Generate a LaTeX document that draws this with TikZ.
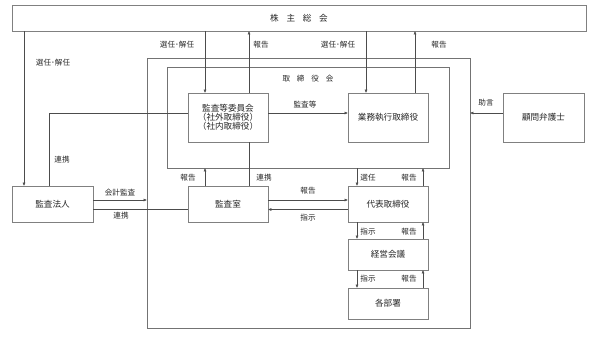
\documentclass[tikz,border=0pt]{standalone}
\usepackage{fontspec}
\setmainfont{Noto Sans CJK JP}
\usetikzlibrary{arrows.meta}
\tikzset{
  box/.style={draw=black!50, line width=0.6pt, inner sep=0pt, align=center,
    text=black!85, font=\fontsize{8.6}{9}\selectfont},
  frame/.style={draw=black!55, line width=0.6pt, inner sep=0pt},
  lbl/.style={inner sep=1pt, text=black!85, font=\fontsize{7.6}{8}\selectfont},
  link/.style={draw=black!70, line width=0.5pt},
  arr/.style={link, -{Triangle[length=3pt,width=2.6pt]}},
}
\begin{document}
\begin{tikzpicture}[x=1pt,y=-1pt]
  \useasboundingbox (0,0) rectangle (596,341);
  \coordinate (xa) at (24,0);
  \coordinate (xb) at (49,0);
  \coordinate (xc) at (205,0);
  \coordinate (xd) at (249,0);
  \coordinate (xe) at (357,0);
  \coordinate (xf) at (366,0);
  \coordinate (xg) at (415,0);
  \coordinate (xh) at (423,0);
  \coordinate (ya) at (0,113);
  \coordinate (yb) at (0,200);
  \coordinate (yc) at (0,209.5);
  \node[frame, minimum width=323, minimum height=270] (group) at (308.5,193) {};
  \node[frame, minimum width=282, minimum height=101] (board) at (308,117.5) {};
  \node[lbl] (boardname) at (308,79) {取\hspace{0.9em}締\hspace{0.9em}役\hspace{0.9em}会};
  \node[box, minimum width=574, minimum height=26] (soukai) at (299,18) {株\hspace{0.9em}主\hspace{0.9em}総\hspace{0.9em}会};
  \node[box, minimum width=80, minimum height=49] (iinkai) at (228,117.5) {監査等委員会\\（社外取締役）\\（社内取締役）};
  \node[box, minimum width=80, minimum height=49] (gyomu) at (388,117.5) {業務執行取締役};
  \node[box, minimum width=81, minimum height=49] (komon) at (543.5,117.5) {顧問弁護士};
  \node[box, minimum width=81, minimum height=36] (houjin) at (52.5,204) {監査法人};
  \node[box, minimum width=80, minimum height=36] (shitsu) at (228,204) {監査室};
  \node[box, minimum width=80, minimum height=36] (daihyo) at (388,204) {代表取締役};
  \node[box, minimum width=80, minimum height=31] (keiei) at (388,254.5) {経営会議};
  \node[box, minimum width=80, minimum height=31] (bumon) at (388,303.5) {各部署};
  \draw[arr] (soukai.south -| xa) -- (houjin.north -| xa);
  \draw[arr] (soukai.south -| xc) -- (iinkai.north -| xc);
  \draw[arr] (iinkai.north -| xd) -- (soukai.south -| xd);
  \draw[arr] (soukai.south -| xf) -- (gyomu.north -| xf);
  \draw[arr] (gyomu.north -| xg) -- (soukai.south -| xg);
  \draw[arr] (iinkai.east |- ya) -- (gyomu.west |- ya);
  \draw[link] (iinkai.west |- ya) -| (houjin.north -| xb);
  \draw[link] (iinkai.south -| xd) -- (shitsu.north -| xd);
  \draw[arr] (shitsu.north -| xc) -- (board.south -| xc);
  \draw[arr] (houjin.east |- yb) -- (group.west |- yb);
  \draw[link] (houjin.east |- yc) -- (shitsu.west |- yc);
  \draw[arr] (shitsu.east |- yb) -- (daihyo.west |- yb);
  \draw[arr] (daihyo.west |- yc) -- (shitsu.east |- yc);
  \draw[arr] (board.south -| xe) -- (daihyo.north -| xe);
  \draw[arr] (daihyo.north -| xh) -- (board.south -| xh);
  \draw[arr] (daihyo.south -| xe) -- (keiei.north -| xe);
  \draw[arr] (keiei.north -| xh) -- (daihyo.south -| xh);
  \draw[arr] (keiei.south -| xe) -- (bumon.north -| xe);
  \draw[arr] (bumon.north -| xh) -- (keiei.south -| xh);
  \draw[arr] (komon.west |- ya) -- (group.east |- ya);
  \node[lbl] (selA) at (53,63) {選任･解任};
  \node[lbl] (selB) at (177,45) {選任･解任};
  \node[lbl] (repB) at (261,45) {報告};
  \node[lbl] (selC) at (338,45) {選任･解任};
  \node[lbl] (repC) at (439,45) {報告};
  \node[lbl] (audit) at (305,105) {監査等};
  \node[lbl] (advice) at (486,103) {助言};
  \node[lbl] (coopA) at (62,160) {連携};
  \node[lbl] (repD) at (188,178) {報告};
  \node[lbl] (coopB) at (264,178) {連携};
  \node[lbl] (elect) at (368,178) {選任};
  \node[lbl] (repE) at (409,178) {報告};
  \node[lbl] (account) at (120,193) {会計監査};
  \node[lbl] (coopC) at (121,216) {連携};
  \node[lbl] (repF) at (308,191) {報告};
  \node[lbl] (order) at (308,218) {指示};
  \node[lbl] (orderA) at (368,232) {指示};
  \node[lbl] (repG) at (409,232) {報告};
  \node[lbl] (orderB) at (368,279) {指示};
  \node[lbl] (repH) at (409,279) {報告};
\end{tikzpicture}
\end{document}
